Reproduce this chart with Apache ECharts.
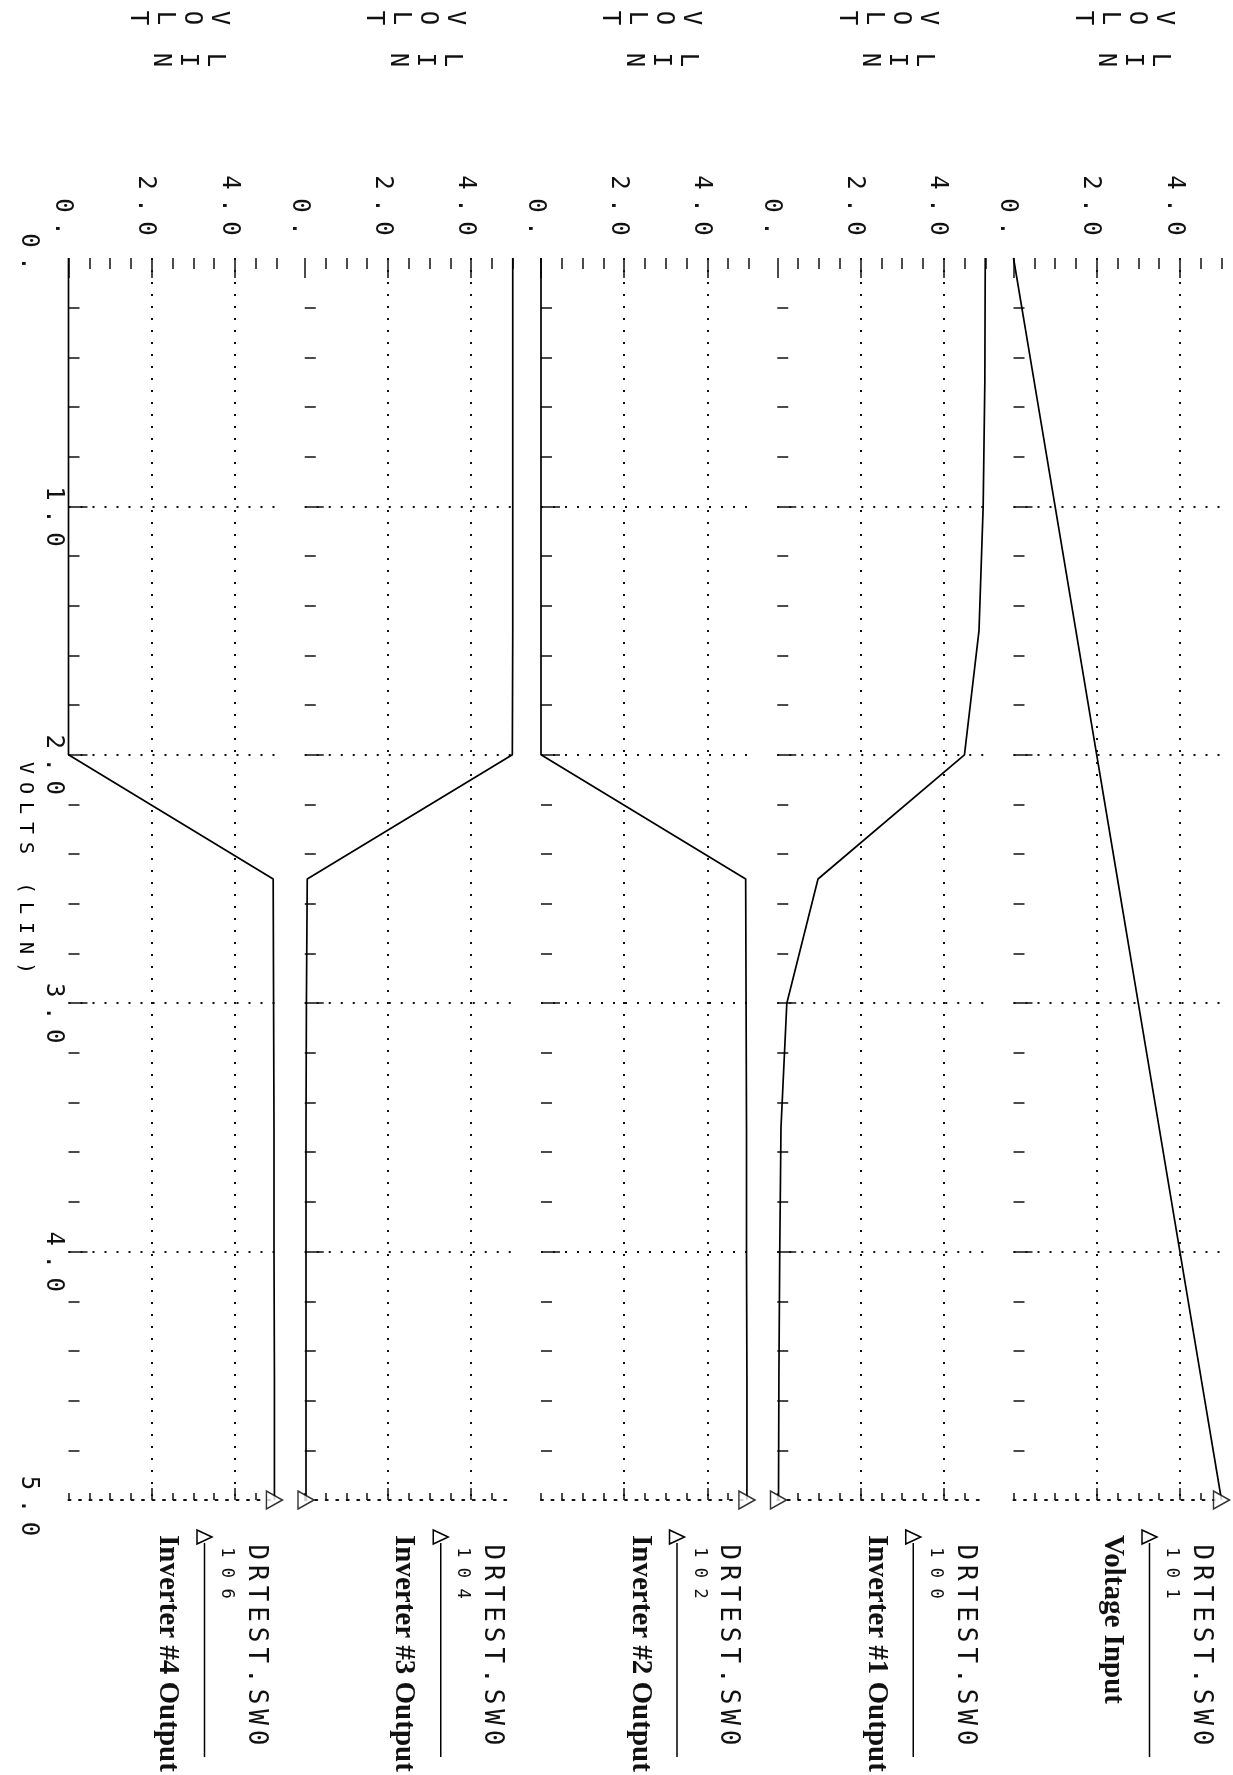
<!DOCTYPE html>
<html>
<head>
<meta charset="utf-8">
<script src="https://cdn.jsdelivr.net/npm/echarts@6/dist/echarts.min.js"></script>
<style>
  html, body { margin: 0; padding: 0; background: #fff; }
  #chart { width: 1233px; height: 1775px; }
</style>
</head>
<body>
<div id="chart"></div>
<script>
  // DC sweep of the input source (volts), drawn top -> bottom
  const sweep = [0, 0.5, 1.0, 1.5, 2.0, 2.5, 3.0, 3.5, 4.0, 4.5, 5.0]

  // node voltages, one array per panel (left to right on the page)
  const inv4Out = [0, 0, 0, 0, 0, 4.92, 4.93, 4.94, 4.94, 4.95, 4.95]
  const inv3Out = [5.0, 5.0, 5.0, 5.0, 4.99, 0.06, 0.04, 0.03, 0.03, 0.03, 0.03]
  const inv2Out = [0, 0, 0, 0, 0, 4.92, 4.93, 4.94, 4.94, 4.95, 4.95]
  const inv1Out = [5.0, 4.99, 4.95, 4.85, 4.5, 0.98, 0.23, 0.09, 0.06, 0.04, 0.03]
  const voltIn = [0, 0.5, 1.0, 1.5, 2.0, 2.5, 3.0, 3.5, 4.0, 4.5, 5.0]

  // legend texts
  const traceNames = ['Inverter #4 Output', 'Inverter #3 Output', 'Inverter #2 Output', 'Inverter #1 Output', 'Voltage Input']
  const nodeIds = ['106', '104', '102', '100', '101']
  const fileName = 'DRTEST.SW0'

  // tick positions
  const voltMajor = [0, 2, 4]
  const voltMinor = [0.5, 1, 1.5, 2.5, 3, 3.5, 4.5, 5]
  const voltGrid = [2, 4]
  const voltBottomMinor = [0, 0.5, 1, 1.5, 2.5, 3, 3.5, 4.5]
  const sweepMajor = [1, 2, 3, 4]
  const sweepMinor = [0.2, 0.4, 0.6, 0.8, 1.2, 1.4, 1.6, 1.8, 2.2, 2.4, 2.6, 2.8,
                      3.2, 3.4, 3.6, 3.8, 4.2, 4.4, 4.6, 4.8]
  const sweepEnds = [0, 5]

  const traces = [inv4Out, inv3Out, inv2Out, inv1Out, voltIn]

  // page layout (the whole plot is turned a quarter turn clockwise)
  const TOP = 258
  const PLOT_H = 1242
  const LEFT0 = 68.5
  const STEP = 236.25
  const PANEL_W = 208
  const INK = '#111'
  const MONO = 'DejaVu Sans Mono'
  const CW = -Math.PI / 2   // clockwise quarter turn

  // plotter style text: every character in its own fixed cell
  const mono = (str, key) => str.split('').map(ch => '{' + key + '|' + ch + '}').join('')
  const rich = {
    n: { fontFamily: MONO, fontSize: 24, width: 23, align: 'center', color: INK },
    s: { fontFamily: MONO, fontSize: 20, width: 20, align: 'center', color: INK },
    g20: { width: 20 },
    g12: { width: 12 }
  }

  // one text element per character, reading downward
  const glyphRow = (str, x, y0, pitch, size) => str.split('').map((ch, k) => ({
    type: 'text', x: x, y: y0 + pitch * (k + 0.5), rotation: CW, silent: true,
    style: { text: ch, fontFamily: MONO, fontSize: size, fill: INK, align: 'center', verticalAlign: 'middle' }
  }))

  const tickStyle = { color: INK, width: 1.5 }
  const gridDots = { color: INK, width: 2, type: [2, 10] }
  const edgeDots = { color: INK, width: 2, type: [2, 8.5] }

  const grid = []
  const xAxis = []
  const yAxis = []
  const series = []
  let graphic = []

  traces.forEach((vals, i) => {
    const left = LEFT0 + STEP * i
    grid.push({ left: left, top: TOP, width: PANEL_W, height: PLOT_H, outerBoundsMode: 'none' })

    const xb = {
      type: 'value', gridIndex: i, min: 0, max: 5,
      axisLine: { show: false, onZero: false },
      splitLine: { show: false },
      axisLabel: { show: false }
    }
    xAxis.push(
      {
        ...xb, position: 'top',
        axisTick: { inside: true, length: 20, customValues: voltMajor, lineStyle: tickStyle },
        axisLabel: {
          show: true, customValues: voltMajor, rotate: 90, align: 'right', verticalAlign: 'middle',
          margin: 18, padding: [12, 0, 0, 0], rich: rich,
          formatter: v => mono(v === 0 ? '0.' : v.toFixed(1), 'n')
        }
      },
      { ...xb, position: 'top', axisTick: { inside: true, length: 11, customValues: voltMinor, lineStyle: tickStyle } },
      {
        ...xb, position: 'bottom',
        axisLine: { show: true, onZero: false, lineStyle: edgeDots },
        axisTick: { inside: true, length: 12, customValues: voltGrid, lineStyle: tickStyle },
        splitLine: { show: true, lineStyle: gridDots }
      },
      { ...xb, position: 'bottom', axisTick: { inside: true, length: 7, customValues: voltBottomMinor, lineStyle: tickStyle } }
    )

    const yb = {
      type: 'value', gridIndex: i, min: 0, max: 5, inverse: true, position: 'left',
      axisLine: { show: false, onZero: false },
      splitLine: { show: false },
      axisLabel: { show: false }
    }
    yAxis.push(
      {
        ...yb,
        axisTick: { inside: true, length: 19, customValues: sweepMajor, lineStyle: tickStyle },
        splitLine: { show: true, lineStyle: gridDots },
        axisLabel: i === 0 ? {
          show: true, customValues: sweepMajor, rotate: -90, align: 'center', verticalAlign: 'top',
          margin: 3, rich: rich,
          formatter: v => '{g20| }' + mono(v.toFixed(1), 'n')
        } : { show: false }
      },
      { ...yb, axisTick: { inside: true, length: 11, customValues: sweepMinor, lineStyle: tickStyle } },
      {
        ...yb,
        axisTick: { show: false },
        axisLabel: i === 0 ? {
          show: true, customValues: sweepEnds, rotate: -90, align: 'center', verticalAlign: 'top',
          margin: 28, rich: rich,
          formatter: v => v === 0 ? mono('0.', 'n') + '{g12| }' : '{g12| }' + mono(v.toFixed(1), 'n')
        } : { show: false }
      }
    )

    const last = sweep.length - 1
    series.push({
      type: 'line', xAxisIndex: 4 * i, yAxisIndex: 3 * i,
      data: sweep.map((s, k) => [vals[k], s]),
      symbol: 'none', clip: false, silent: true,
      lineStyle: { color: '#000', width: 1.7 }
    })
    // end-of-trace marker
    series.push({
      type: 'scatter', xAxisIndex: 4 * i, yAxisIndex: 3 * i,
      data: [[vals[last], sweep[last]]],
      symbol: 'triangle', symbolRotate: -90, symbolSize: [18, 16], clip: false, silent: true, z: 5,
      itemStyle: { color: '#fff', borderColor: '#000', borderWidth: 1.5 }
    })

    // stacked "VOLT / LIN" title of each panel
    graphic.push(
      { type: 'text', x: left + 109, y: 18, rotation: CW,
        style: { text: 'V\nO\nL\nT', fontFamily: MONO, fontSize: 24, lineHeight: 27, fill: INK, align: 'center', verticalAlign: 'middle' } },
      { type: 'text', x: left + 119, y: 60, rotation: CW,
        style: { text: 'L\nI\nN', fontFamily: MONO, fontSize: 24, lineHeight: 27, fill: INK, align: 'center', verticalAlign: 'middle' } }
    )

    // legend entry under each panel
    graphic.push(
      { type: 'polygon', shape: { points: [[left + 128.5, 1530], [left + 128.5, 1544], [left + 143.5, 1537]] },
        style: { fill: '#fff', stroke: '#000', lineWidth: 1.5 }, z: 10 },
      { type: 'line', shape: { x1: left + 136, y1: 1543, x2: left + 136, y2: 1757 },
        style: { stroke: '#000', lineWidth: 1.5 } },
      { type: 'text', x: left + 99, y: 1535, rotation: CW,
        style: { text: traceNames[i], fontFamily: 'Liberation Serif', fontWeight: 'bold', fontSize: 29,
                 fill: INK, align: 'left', verticalAlign: 'middle' } }
    )
    graphic = graphic.concat(
      glyphRow(fileName, left + 187, 1542, 20.6, 26),
      glyphRow(nodeIds[i], left + 158, 1542, 20.6, 17)
    )
  })

  // sweep axis title
  graphic.push({
    type: 'text', x: 25, y: 868, rotation: CW,
    style: { text: mono('VOLTS (LIN)', 's'), rich: rich, align: 'center', verticalAlign: 'middle' }
  })

  const chart = echarts.init(document.getElementById('chart'))
  chart.setOption({
    backgroundColor: '#fff',
    animation: false,
    grid: grid,
    xAxis: xAxis,
    yAxis: yAxis,
    series: series,
    graphic: graphic
  })
</script>
</body>
</html>
